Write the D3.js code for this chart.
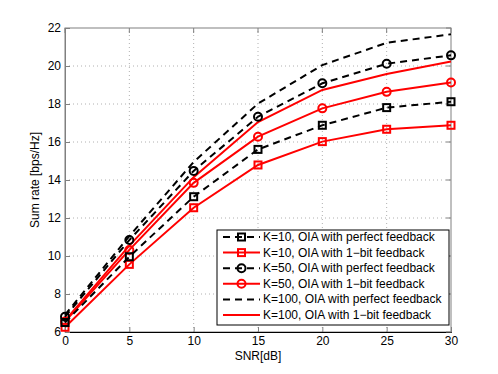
<head>
  <meta charset="UTF-8">
  <script src="https://d3js.org/d3.v7.min.js"></script>
</head>
<body style="margin:0;background:#fff">
  <svg id="chart"></svg>
</body>
<style>
  text { font-family: 'Liberation Sans', Arial, sans-serif; fill: #000; }
</style>
<script>
  // SNR in dB
  const snr = [0, 5, 10, 15, 20, 25, 30];
  const k10Perfect = [6.5, 9.96, 13.12, 15.61, 16.88, 17.81, 18.12];
  const k10OneBit = [6.25, 9.56, 12.54, 14.79, 16.02, 16.67, 16.88];
  const k50Perfect = [6.8, 10.84, 14.48, 17.33, 19.09, 20.12, 20.56];
  const k50OneBit = [6.55, 10.32, 13.85, 16.28, 17.77, 18.64, 19.13];
  const k100Perfect = [6.9, 11.05, 14.95, 18.02, 20.05, 21.22, 21.67];
  const k100OneBit = [6.6, 10.55, 14.15, 17.05, 18.74, 19.58, 20.24];
  const xTicks = [0, 5, 10, 15, 20, 25, 30];
  const yTicks = [6, 8, 10, 12, 14, 16, 18, 20, 22];

  const series = [
    {label: 'K=10, OIA with perfect feedback', values: k10Perfect, color: '#000', dash: '7,5', marker: 'square'},
    {label: 'K=10, OIA with 1\u2212bit feedback', values: k10OneBit, color: '#ff0000', dash: null, marker: 'square'},
    {label: 'K=50, OIA with perfect feedback', values: k50Perfect, color: '#000', dash: '7,5', marker: 'circle'},
    {label: 'K=50, OIA with 1\u2212bit feedback', values: k50OneBit, color: '#ff0000', dash: null, marker: 'circle'},
    {label: 'K=100, OIA with perfect feedback', values: k100Perfect, color: '#000', dash: '7,5', marker: null},
    {label: 'K=100, OIA with 1\u2212bit feedback', values: k100OneBit, color: '#ff0000', dash: null, marker: null}
  ];

  const W = 498, H = 374;
  const margin = {top: 28, right: 47, bottom: 42, left: 65};
  const svg = d3.select('#chart').attr('width', W).attr('height', H);

  const x = d3.scaleLinear().domain([0, 30]).range([margin.left, W - margin.right]);
  const y = d3.scaleLinear().domain([6, 22]).range([H - margin.bottom, margin.top]);

  // grid
  const grid = svg.append('g').attr('stroke', '#b0b0b0').attr('stroke-width', 1).attr('stroke-dasharray', '1,3');
  grid.selectAll('line.gx').data(xTicks.slice(1, -1)).join('line')
    .attr('x1', d => x(d)).attr('x2', d => x(d))
    .attr('y1', y(6)).attr('y2', y(22));
  grid.selectAll('line.gy').data(yTicks.slice(1, -1)).join('line')
    .attr('class', 'gy')
    .attr('x1', x(0)).attr('x2', x(30))
    .attr('y1', d => y(d)).attr('y2', d => y(d));

  // box
  svg.append('rect')
    .attr('x', x(0)).attr('y', y(22))
    .attr('width', x(30) - x(0)).attr('height', y(6) - y(22))
    .attr('fill', 'none').attr('stroke', '#808080').attr('stroke-width', 1);

  const fam = "'Liberation Sans', Arial, sans-serif";

  // axes
  const xAxis = svg.append('g').attr('transform', `translate(0,${y(6)})`)
    .call(d3.axisBottom(x).tickValues(xTicks).tickSize(-5).tickPadding(4));
  xAxis.select('.domain').attr('stroke', '#000');
  xAxis.selectAll('line').attr('stroke', '#808080');
  xAxis.selectAll('text').attr('font-size', 12).attr('font-family', fam);

  const yAxis = svg.append('g').attr('transform', `translate(${x(0)},0)`)
    .call(d3.axisLeft(y).tickValues(yTicks).tickSize(-5).tickPadding(4));
  yAxis.select('.domain').attr('stroke', '#808080');
  yAxis.selectAll('line').attr('stroke', '#808080');
  yAxis.selectAll('text').attr('font-size', 12).attr('font-family', fam);

  // top and right ticks
  svg.append('g').selectAll('line').data(xTicks).join('line')
    .attr('x1', d => x(d)).attr('x2', d => x(d))
    .attr('y1', y(22)).attr('y2', y(22) + 5).attr('stroke', '#808080');
  svg.append('g').selectAll('line').data(yTicks).join('line')
    .attr('x1', x(30)).attr('x2', x(30) - 5)
    .attr('y1', d => y(d)).attr('y2', d => y(d)).attr('stroke', '#808080');

  // labels
  svg.append('text').attr('x', (x(0) + x(30)) / 2).attr('y', 360)
    .attr('text-anchor', 'middle').attr('font-size', 12).text('SNR[dB]');
  svg.append('text')
    .attr('transform', `translate(39,${(y(6) + y(22)) / 2}) rotate(-90)`)
    .attr('text-anchor', 'middle').attr('font-size', 12).text('Sum rate [bps/Hz]');

  const line = d3.line().x((d, i) => x(snr[i])).y(d => y(d));

  function drawMarker(g, kind, cx, cy, color) {
    if (kind === 'square') {
      g.append('rect').attr('x', cx - 3.5).attr('y', cy - 3.5).attr('width', 7).attr('height', 7)
        .attr('fill', 'none').attr('stroke', color).attr('stroke-width', 2);
    } else if (kind === 'circle') {
      g.append('circle').attr('cx', cx).attr('cy', cy).attr('r', 4)
        .attr('fill', 'none').attr('stroke', color).attr('stroke-width', 2);
    }
  }

  const plot = svg.append('g');
  series.slice().reverse().forEach(s => {
    plot.append('path').datum(s.values).attr('d', line)
      .attr('fill', 'none').attr('stroke', s.color).attr('stroke-width', 2)
      .attr('stroke-dasharray', s.dash);
    s.values.forEach((v, i) => drawMarker(plot, s.marker, x(snr[i]), y(v), s.color));
  });

  // legend
  const lg = svg.append('g');
  const lx = 217, ly = 230, lw = 232, lh = 95;
  lg.append('rect').attr('x', lx).attr('y', ly).attr('width', lw).attr('height', lh)
    .attr('fill', '#fff').attr('stroke', '#000').attr('stroke-width', 1);
  series.forEach((s, i) => {
    const ry = ly + 7 + i * 15.6;
    lg.append('line').attr('x1', lx + 6).attr('x2', lx + 43).attr('y1', ry).attr('y2', ry)
      .attr('stroke', s.color).attr('stroke-width', 2).attr('stroke-dasharray', s.dash);
    drawMarker(lg, s.marker, lx + 24.5, ry, s.color);
    lg.append('text').attr('x', lx + 46).attr('y', ry + 4).attr('font-size', 12).text(s.label);
  });
</script>
